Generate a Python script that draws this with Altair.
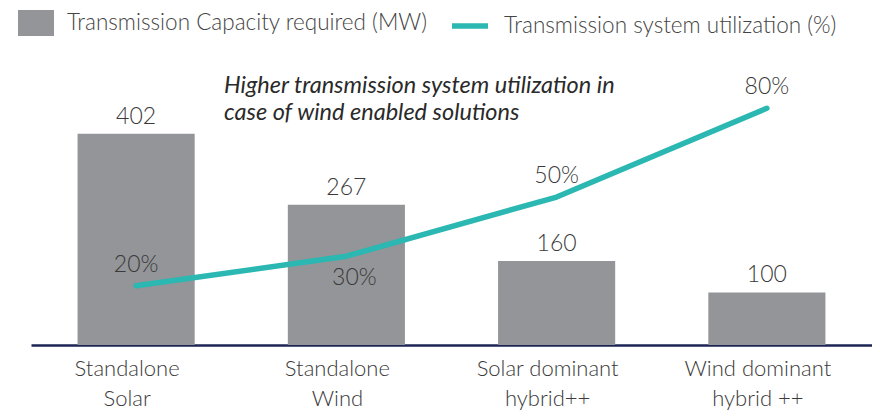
import altair as alt
import pandas as pd

categories = ["Standalone\nSolar", "Standalone\nWind", "Solar dominant\nhybrid++", "Wind dominant\nhybrid ++"]
capacity_mw = [402, 267, 160, 100]
utilization_pct = [20, 30, 50, 80]
util_text = ["20%", "30%", "50%", "80%"]
util_label_above = [True, False, True, True]

bar_series = "Transmission Capacity required (MW)"
line_series = "Transmission system utilization (%)"
note = "Higher transmission system utilization in\ncase of wind enabled solutions"

df = pd.DataFrame({
    "category": categories,
    "mw": capacity_mw,
    "util": utilization_pct,
    "util_text": util_text,
    "above": util_label_above,
    "bar_series": bar_series,
    "line_series": line_series,
})

FONT = "Lato"
GRAY = "#939598"
TEAL = "#2BB7B2"
TEXT = "#3a3a3a"

x_enc = alt.X(
    "category:N",
    sort=categories,
    scale=alt.Scale(paddingInner=0.443, paddingOuter=0.2215),
    axis=alt.Axis(
        title=None, labelAngle=0, ticks=False, domainColor="#1d2554", domainWidth=2.5,
        labelFont=FONT, labelFontSize=22, labelFontWeight=300, labelColor=TEXT,
        labelPadding=13, labelLineHeight=30, labelBaseline="top", labelOffset=-9,
        labelExpr="split(datum.label, '\\n')",
    ),
)
y_mw = alt.Y("mw:Q", scale=alt.Scale(domain=[0, 552]), axis=None)
y_util = alt.Y("util:Q", scale=alt.Scale(domain=[0, 98]), axis=None)

base = alt.Chart(df)

legend_label = dict(labelFont=FONT, labelFontSize=22.5, labelFontWeight=300,
                    labelColor="#444444", labelOffset=13, labelLimit=600)

bars = base.mark_bar(opacity=1).encode(
    x=x_enc,
    y=y_mw,
    color=alt.Color(
        "bar_series:N",
        scale=alt.Scale(domain=[bar_series], range=[GRAY]),
        legend=alt.Legend(
            title=None, orient="none", legendX=-13, legendY=-50, padding=0,
            symbolType="M-1,-0.72L1,-0.72L1,0.72L-1,0.72Z", symbolSize=1296,
            symbolOpacity=1, symbolStrokeWidth=0, **legend_label,
        ),
    ),
)

bar_labels = base.mark_text(
    dy=-17, baseline="middle", font=FONT, fontSize=23, fontWeight=300, color=TEXT
).encode(x=x_enc, y=y_mw, text=alt.Text("mw:Q"))

line = base.mark_line(strokeWidth=5.5, strokeCap="round", strokeJoin="round").encode(
    x=x_enc,
    y=y_util,
    stroke=alt.Stroke(
        "line_series:N",
        scale=alt.Scale(domain=[line_series], range=[TEAL]),
        legend=alt.Legend(
            title=None, orient="none", legendX=418, legendY=-50, padding=0,
            symbolType="stroke", symbolSize=1296, symbolStrokeWidth=5.5, **legend_label,
        ),
    ),
)

util_above = base.mark_text(
    dy=-21, baseline="middle", font=FONT, fontSize=23, fontWeight=300, color=TEXT
).encode(x=x_enc, y=y_util, text="util_text:N").transform_filter("datum.above")

util_below = base.mark_text(
    dy=22, dx=8, baseline="middle", font=FONT, fontSize=23, fontWeight=300, color=TEXT
).encode(x=x_enc, y=y_util, text="util_text:N").transform_filter("!datum.above")

annotation = alt.Chart(pd.DataFrame({"note": [note]})).mark_text(
    align="left", baseline="alphabetic", font=FONT, fontSize=23.5, fontStyle="italic",
    fontWeight=400, color="#2a2a2a", lineBreak="\n", lineHeight=27,
).encode(x=alt.value(193), y=alt.value(38), text="note:N")

chart = alt.layer(bars, bar_labels, line, util_above, util_below, annotation).resolve_scale(
    y="independent"
).properties(
    width=841, height=290,
    padding={"left": 23, "top": 47, "right": 0, "bottom": 68},
    autosize=alt.AutoSizeParams(type="none"),
).configure_view(stroke=None)

chart.save("out.html", embed_options={"renderer": "svg", "actions": False})
